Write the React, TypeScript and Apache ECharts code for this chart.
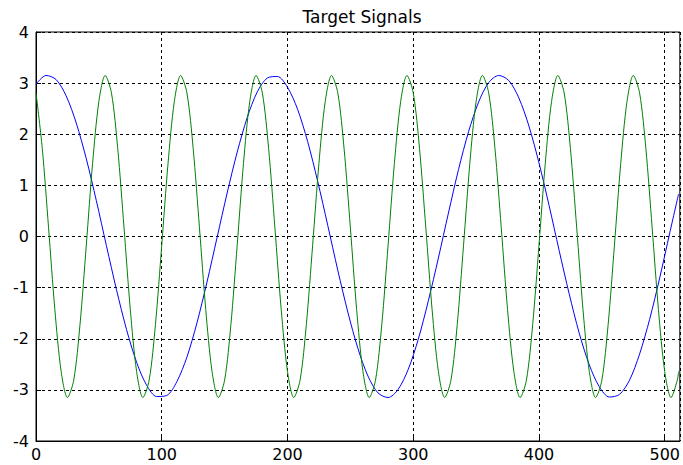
import { useEffect, useRef } from "react";
import * as echarts from "echarts";

const TITLE = "Target Signals";

// Blue signal: sample positions and values
const blueX = [
  0, 8, 16, 24, 32, 40, 48, 56, 64, 72, 80, 88, 96, 104, 112, 120, 128, 136, 144, 152,
  160, 168, 176, 184, 192, 200, 208, 216, 224, 232, 240, 248, 256, 264, 272, 280, 288, 296,
  304, 312, 320, 328, 336, 344, 352, 360, 368, 376, 384, 392, 400, 408, 416, 424, 432, 440,
  448, 456, 464, 472, 480, 488, 496, 504, 511,
];
const blueY = [
  2.98, 3.15, 3.07, 2.75, 2.22, 1.52, 0.7, -0.18, -1.04, -1.82,
  -2.46, -2.91, -3.13, -3.11, -2.84, -2.36, -1.69, -0.89, -0.02, 0.85,
  1.65, 2.33, 2.83, 3.1, 3.13, 2.92, 2.49, 1.86, 1.08, 0.22,
  -0.66, -1.48, -2.19, -2.73, -3.06, -3.15, -2.99, -2.6, -2.01, -1.26,
  -0.42, 0.46, 1.31, 2.05, 2.63, 3.01, 3.15, 3.05, 2.71, 2.16,
  1.44, 0.61, -0.27, -1.12, -1.89, -2.51, -2.94, -3.14, -3.09, -2.81,
  -2.3, -1.62, -0.81, 0.07, 0.83,
];

// Green signal: sample positions and values
const greenX = [
  0, 5, 10, 15, 20, 25, 30, 35, 40, 45, 50, 55,
  60, 65, 70, 75, 80, 85, 90, 95, 100, 105, 110, 115,
  120, 125, 130, 135, 140, 145, 150, 155, 160, 165, 170, 175,
  180, 185, 190, 195, 200, 205, 210, 215, 220, 225, 230, 235,
  240, 245, 250, 255, 260, 265, 270, 275, 280, 285, 290, 295,
  300, 305, 310, 315, 320, 325, 330, 335, 340, 345, 350, 355,
  360, 365, 370, 375, 380, 385, 390, 395, 400, 405, 410, 415,
  420, 425, 430, 435, 440, 445, 450, 455, 460, 465, 470, 475,
  480, 485, 490, 495, 500, 505, 510, 511,
];
const greenY = [
  2.81, 1.72, 0.17, -1.43, -2.64, -3.15, -2.81, -1.72, -0.17, 1.43, 2.64, 3.15,
  2.81, 1.72, 0.17, -1.43, -2.64, -3.15, -2.81, -1.72, -0.17, 1.43, 2.64, 3.15,
  2.81, 1.72, 0.17, -1.43, -2.64, -3.15, -2.81, -1.72, -0.17, 1.43, 2.64, 3.15,
  2.81, 1.72, 0.17, -1.43, -2.64, -3.15, -2.81, -1.72, -0.17, 1.43, 2.64, 3.15,
  2.81, 1.72, 0.17, -1.43, -2.64, -3.15, -2.81, -1.72, -0.17, 1.43, 2.64, 3.15,
  2.81, 1.72, 0.17, -1.43, -2.64, -3.15, -2.81, -1.72, -0.17, 1.43, 2.64, 3.15,
  2.81, 1.72, 0.17, -1.43, -2.64, -3.15, -2.81, -1.72, -0.17, 1.43, 2.64, 3.15,
  2.81, 1.72, 0.17, -1.43, -2.64, -3.15, -2.81, -1.72, -0.17, 1.43, 2.64, 3.15,
  2.81, 1.72, 0.17, -1.43, -2.64, -3.15, -2.81, -2.64,
];

const X_MIN = 0;
const X_MAX = 512;
const X_INTERVAL = 100;
const Y_MIN = -4;
const Y_MAX = 4;
const Y_INTERVAL = 1;

const FONT = "DejaVu Sans";

export default function App() {
  const ref = useRef<HTMLDivElement>(null);

  useEffect(() => {
    if (!ref.current) return;
    const chart = echarts.init(ref.current, null, { renderer: "svg" });
    const gridLine = { show: true, lineStyle: { color: "#000", width: 1, type: [3, 3] as number[] } };
    chart.setOption({
      animation: false,
      backgroundColor: "#fff",
      title: {
        text: TITLE,
        left: 357,
        top: 3,
        textAlign: "center",
        textStyle: { fontFamily: FONT, fontSize: 17, fontWeight: "normal", color: "#000" },
      },
      grid: {
        left: 36,
        right: 2,
        top: 32,
        bottom: 24,
        show: true,
        borderColor: "#000",
        borderWidth: 1,
        backgroundColor: "#fff",
      },
      xAxis: {
        type: "value",
        min: X_MIN,
        max: X_MAX,
        interval: X_INTERVAL,
        axisLine: { show: true, onZero: false, lineStyle: { color: "#000", width: 1 } },
        axisTick: { show: true, inside: true, length: 5, lineStyle: { color: "#000" } },
        axisLabel: {
          color: "#000",
          fontFamily: FONT,
          fontSize: 16,
          margin: 5,
          showMaxLabel: false,
          formatter: (v: number) => (v % X_INTERVAL === 0 ? String(v) : ""),
        },
        splitLine: gridLine,
      },
      yAxis: {
        type: "value",
        min: Y_MIN,
        max: Y_MAX,
        interval: Y_INTERVAL,
        axisLine: { show: true, onZero: false, lineStyle: { color: "#000", width: 1 } },
        axisTick: { show: true, inside: true, length: 5, lineStyle: { color: "#000" } },
        axisLabel: { color: "#000", fontFamily: FONT, fontSize: 16, margin: 7 },
        splitLine: gridLine,
      },
      series: [
        {
          type: "line",
          data: blueX.map((x, i) => [x, blueY[i]]),
          symbol: "none",
          smooth: 0.3,
          lineStyle: { color: "#0000ff", width: 1 },
        },
        {
          type: "line",
          data: greenX.map((x, i) => [x, greenY[i]]),
          symbol: "none",
          smooth: 0.3,
          lineStyle: { color: "#008000", width: 1 },
        },
      ],
    });
    return () => chart.dispose();
  }, []);

  return (
    <div
      ref={ref}
      style={{ position: "absolute", left: 0, top: 0, width: 683, height: 465 }}
    />
  );
}
